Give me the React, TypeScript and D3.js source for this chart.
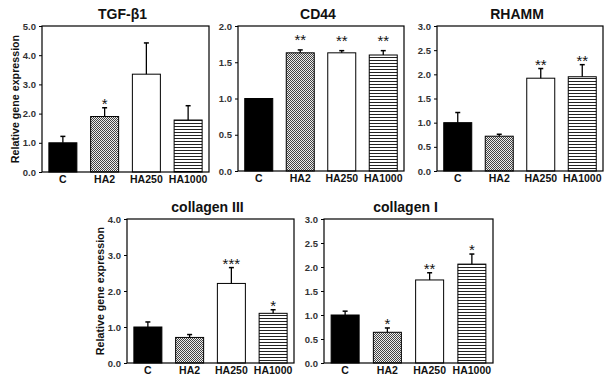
import React, { useEffect, useRef } from "react"
import * as d3 from "d3"

// treatment groups, shared by every panel
const groups = ["C", "HA2", "HA250", "HA1000"]

const tgfMean = [1.0, 1.9, 3.35, 1.78]
const tgfErr = [0.22, 0.3, 1.07, 0.49]
const tgfSig = ["", "*", "", ""]

const cd44Mean = [1.0, 1.63, 1.63, 1.6]
const cd44Err = [0, 0.04, 0.03, 0.06]
const cd44Sig = ["", "**", "**", "**"]

const rhammMean = [1.0, 0.72, 1.92, 1.95]
const rhammErr = [0.21, 0.04, 0.2, 0.25]
const rhammSig = ["", "", "**", "**"]

const col3Mean = [1.0, 0.71, 2.21, 1.38]
const col3Err = [0.14, 0.08, 0.44, 0.1]
const col3Sig = ["", "", "***", "*"]

const col1Mean = [1.0, 0.64, 1.73, 2.06]
const col1Err = [0.08, 0.09, 0.15, 0.21]
const col1Sig = ["", "*", "**", "*"]

const titles = ["TGF-β1", "CD44", "RHAMM", "collagen III", "collagen I"]
const yMaxes = [5, 2, 3, 4, 3]
const tickSteps = [1, 0.5, 0.5, 1, 0.5]
const yLabel = "Relative gene expression"

const font = "'Liberation Sans', Arial, sans-serif"

export default function App() {
  const ref = useRef<SVGSVGElement>(null)

  useEffect(() => {
    const svg = d3.select(ref.current)
    svg.selectAll("*").remove()

    const defs = svg.append("defs")
    const checker = defs
      .append("pattern")
      .attr("id", "checker")
      .attr("patternUnits", "userSpaceOnUse")
      .attr("width", 2)
      .attr("height", 2)
    checker.append("rect").attr("width", 2).attr("height", 2).attr("fill", "#eee")
    checker.append("rect").attr("width", 1).attr("height", 1).attr("fill", "#444")
    checker.append("rect").attr("x", 1).attr("y", 1).attr("width", 1).attr("height", 1).attr("fill", "#444")

    const stripes = defs
      .append("pattern")
      .attr("id", "stripes")
      .attr("patternUnits", "userSpaceOnUse")
      .attr("width", 4)
      .attr("height", 3)
    stripes.append("rect").attr("width", 4).attr("height", 3).attr("fill", "#fff")
    stripes.append("rect").attr("width", 4).attr("height", 1).attr("fill", "#222")

    const fills = ["#000", "url(#checker)", "#fff", "url(#stripes)"]

    const means = [tgfMean, cd44Mean, rhammMean, col3Mean, col1Mean]
    const errs = [tgfErr, cd44Err, rhammErr, col3Err, col1Err]
    const sigs = [tgfSig, cd44Sig, rhammSig, col3Sig, col1Sig]

    // plot frames: left, right, top, bottom
    const boxes = [
      [42, 209, 26, 172],
      [238, 404, 26, 171],
      [437, 603, 26, 171],
      [127, 294, 219, 363],
      [324, 493, 219, 363],
    ]

    boxes.forEach(([l, r, t, b], i) => {
      const g = svg.append("g")
      const x = d3.scaleBand().domain(groups).range([l, r]).padding(0)
      const y = d3.scaleLinear().domain([0, yMaxes[i]]).range([b, t])
      const bw = 28

      const ticks = d3.range(0, yMaxes[i] + 1e-9, tickSteps[i])
      const axis = d3
        .axisLeft(y)
        .tickValues(ticks)
        .tickFormat(d3.format(".1f"))
        .tickSize(3)
        .tickPadding(3)
        .tickSizeOuter(0)
      const ax = g.append("g").attr("transform", `translate(${l},0)`).call(axis)
      ax.select(".domain").remove()
      ax.selectAll("line").attr("stroke", "#000")
      ax.selectAll("text")
        .attr("font-family", font)
        .attr("font-weight", "bold")
        .attr("font-size", 9.5)
        .attr("fill", "#333")

      g.selectAll(".bar")
        .data(groups)
        .enter()
        .append("rect")
        .attr("x", d => (x(d) as number) + x.bandwidth() / 2 - bw / 2)
        .attr("y", (d, j) => y(means[i][j]))
        .attr("width", bw)
        .attr("height", (d, j) => b - y(means[i][j]))
        .attr("fill", (d, j) => fills[j])
        .attr("stroke", "#000")
        .attr("stroke-width", 1)

      groups.forEach((d, j) => {
        const cx = (x(d) as number) + x.bandwidth() / 2
        const top = y(means[i][j] + errs[i][j])
        if (errs[i][j] > 0) {
          g.append("line")
            .attr("x1", cx).attr("x2", cx)
            .attr("y1", y(means[i][j])).attr("y2", top)
            .attr("stroke", "#000").attr("stroke-width", 1.3)
          g.append("line")
            .attr("x1", cx - 2.5).attr("x2", cx + 2.5)
            .attr("y1", top).attr("y2", top)
            .attr("stroke", "#000").attr("stroke-width", 1.5)
        }
        if (sigs[i][j]) {
          g.append("text")
            .attr("x", cx)
            .attr("y", i === 1 ? top - 5 : top + 1)
            .attr("text-anchor", "middle")
            .attr("font-family", font)
            .attr("font-size", 15)
            .attr("fill", "#111")
            .text(sigs[i][j])
        }
        g.append("text")
          .attr("x", cx)
          .attr("y", b + 11)
          .attr("text-anchor", "middle")
          .attr("font-family", font)
          .attr("font-weight", "bold")
          .attr("font-size", 10.5)
          .attr("fill", "#111")
          .text(d)
      })

      g.append("rect")
        .attr("x", l).attr("y", t)
        .attr("width", r - l).attr("height", b - t)
        .attr("fill", "none")
        .attr("stroke", "#000")
        .attr("stroke-width", 1.2)

      g.append("text")
        .attr("x", (l + r) / 2 - 3)
        .attr("y", t - 7)
        .attr("text-anchor", "middle")
        .attr("font-family", font)
        .attr("font-weight", "bold")
        .attr("font-size", 14)
        .attr("fill", "#111")
        .text(titles[i])

      if (i === 0 || i === 3) {
        g.append("text")
          .attr("transform", `translate(${l - 23},${(t + b) / 2}) rotate(-90)`)
          .attr("text-anchor", "middle")
          .attr("font-family", font)
          .attr("font-weight", "bold")
          .attr("font-size", 10.7)
          .attr("fill", "#111")
          .text(yLabel)
      }
    })
  }, [])

  return (
    <svg
      ref={ref}
      width={613}
      height={385}
      style={{ position: "absolute", left: 0, top: 0, background: "#fff" }}
    />
  )
}
